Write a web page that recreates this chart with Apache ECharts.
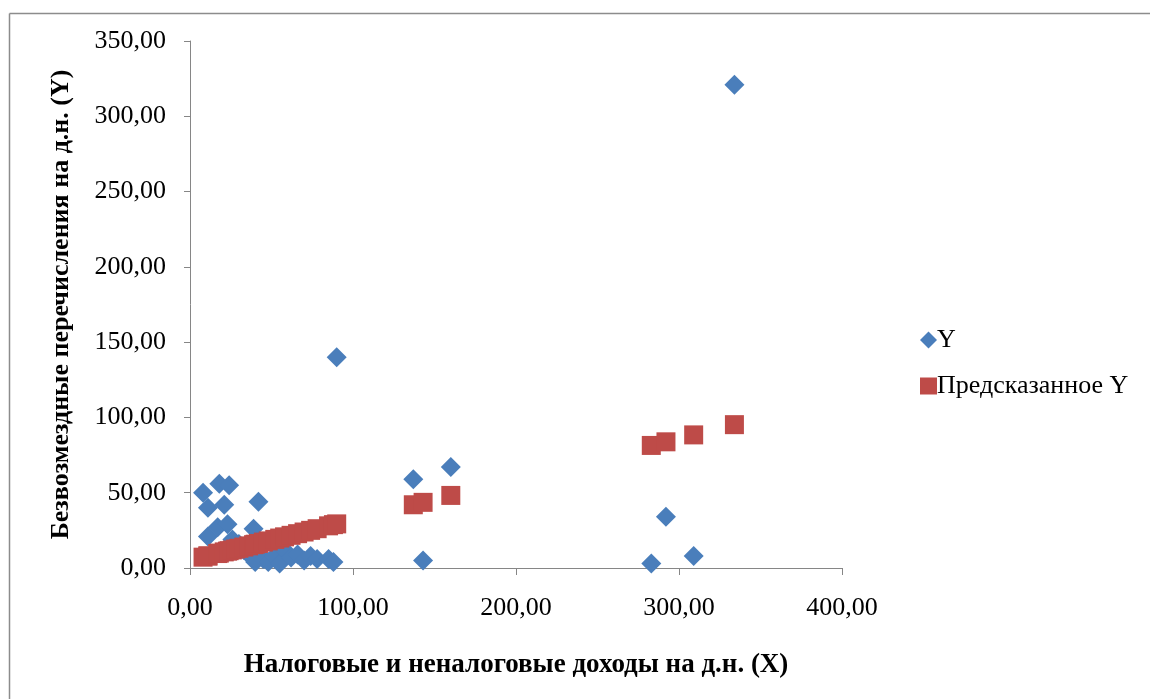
<!DOCTYPE html>
<html>
<head>
<meta charset="utf-8">
<script src="https://cdn.jsdelivr.net/npm/echarts@6/dist/echarts.min.js"></script>
<style>
html,body{margin:0;padding:0;background:#fff;}
#chart{width:1150px;height:699px;}
</style>
</head>
<body>
<div id="chart"></div>
<script>
// X values (Налоговые и неналоговые доходы на д.н.)
const xValues = [8, 11, 11, 17, 18, 21, 23, 24, 26, 28, 30, 33, 36, 39, 40, 42, 45, 48, 52, 55, 58, 62, 66, 70, 74, 78, 85, 88, 90, 137, 143, 160, 283, 292, 309, 334];
// Observed Y (Безвозмездные перечисления на д.н.)
const yValues = [50, 40, 21, 27, 56, 42, 29, 55, 19, 12, 16, 12, 9, 26, 4, 44, 6, 4, 8, 3, 12, 7, 9, 5, 8, 6, 6, 4, 140, 59, 5, 67, 3, 34, 8, 321];
// Predicted Y
const predValues = [7.2, 8.0, 8.0, 9.6, 9.9, 10.7, 11.2, 11.5, 12.0, 12.6, 13.1, 13.9, 14.7, 15.5, 15.8, 16.3, 17.2, 18.0, 19.0, 19.9, 20.7, 21.7, 22.8, 23.9, 25.0, 26.1, 28.0, 28.8, 29.3, 42.0, 43.6, 48.2, 81.4, 83.8, 88.4, 95.2];
const seriesNames = ['Y', 'Предсказанное Y'];
const xTitle = 'Налоговые и неналоговые доходы на д.н. (X)';
const yTitle = 'Безвозмездные перечисления на д.н. (Y)';

const fmt = v => v.toFixed(2).replace('.', ',');
const font = 'Liberation Serif, Times New Roman, serif';

const chart = echarts.init(document.getElementById('chart'));
chart.setOption({
  animation: false,
  backgroundColor: '#fff',
  graphic: [
    {type: 'line', shape: {x1: 9.5, y1: 13.5, x2: 1150, y2: 13.5}, style: {stroke: '#8c8c8c', lineWidth: 1.5}, silent: true},
    {type: 'line', shape: {x1: 9.5, y1: 13.5, x2: 9.5, y2: 699}, style: {stroke: '#8c8c8c', lineWidth: 1.5}, silent: true}
  ],
  grid: {left: 190, right: 308, top: 41, bottom: 131},
  legend: {
    orient: 'vertical',
    left: 915, top: 322,
    itemWidth: 17, itemHeight: 17,
    itemGap: 20,
    data: [{name: seriesNames[0], icon: 'diamond'}, {name: seriesNames[1], icon: 'rect'}],
    textStyle: {fontFamily: font, fontSize: 26, color: '#000', padding: [0, 0, 0, -5], lineHeight: 25}
  },
  xAxis: {
    type: 'value', min: 0, max: 400, interval: 100,
    name: xTitle, nameLocation: 'middle', nameGap: 84,
    nameTextStyle: {fontFamily: font, fontSize: 27, fontWeight: 'bold', color: '#000'},
    axisLine: {show: true, lineStyle: {color: '#868686', width: 1}},
    axisTick: {show: true, inside: false, length: 7, lineStyle: {color: '#868686'}},
    axisLabel: {formatter: fmt, fontFamily: font, fontSize: 26, color: '#000', margin: 27},
    splitLine: {show: false}
  },
  yAxis: {
    type: 'value', min: 0, max: 350, interval: 50,
    name: yTitle, nameLocation: 'middle', nameGap: 116,
    nameTextStyle: {fontFamily: font, fontSize: 26, fontWeight: 'bold', color: '#000'},
    axisLine: {show: true, lineStyle: {color: '#868686', width: 1}},
    axisTick: {show: true, inside: false, length: 6, lineStyle: {color: '#868686'}},
    axisLabel: {formatter: fmt, fontFamily: font, fontSize: 26, color: '#000', margin: 24},
    splitLine: {show: false}
  },
  series: [
    {
      name: seriesNames[0], type: 'scatter', symbol: 'diamond', symbolSize: 20,
      itemStyle: {color: '#4a7ebb', opacity: 1},
      data: xValues.map((x, i) => [x, yValues[i]])
    },
    {
      name: seriesNames[1], type: 'scatter', symbol: 'rect', symbolSize: 19,
      itemStyle: {color: '#be4b48', opacity: 1},
      data: xValues.map((x, i) => [x, predValues[i]])
    }
  ]
});
</script>
</body>
</html>
